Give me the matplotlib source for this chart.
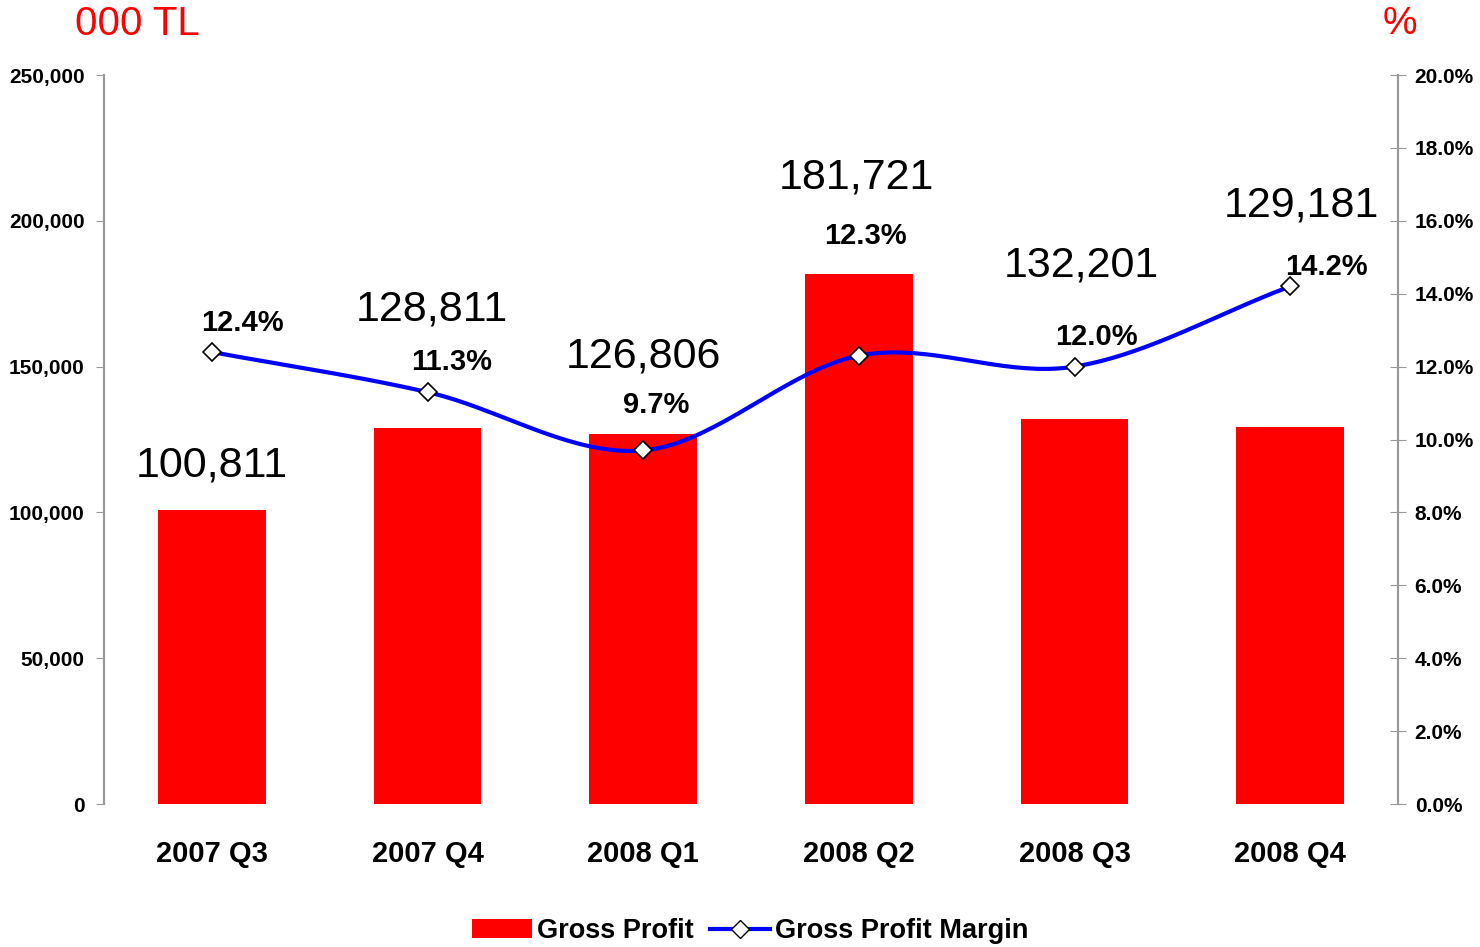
import numpy as np
import matplotlib
matplotlib.use("Agg")
import matplotlib.pyplot as plt
from matplotlib.lines import Line2D
from matplotlib.patches import Patch

plt.rcParams['font.family'] = ['Liberation Sans', 'DejaVu Sans']

# data
quarters = ['2007 Q3', '2007 Q4', '2008 Q1', '2008 Q2', '2008 Q3', '2008 Q4']
gross_profit = [100811, 128811, 126806, 181721, 132201, 129181]
margin = [12.4, 11.3, 9.7, 12.3, 12.0, 14.2]

# label placement (data units)
value_label_y = [116000, 169500, 153300, 215000, 184800, 205400]
value_label_dx = [0.0, 0.02, 0.0, -0.01, 0.03, 0.05]
pct_label_y = [13.2, 12.13, 10.95, 15.58, 12.81, 14.73]
pct_label_dx = [0.14, 0.11, 0.06, 0.03, 0.1, 0.17]


def catmull_rom(x, y, n=40):
    # smooth curve passing through the points (like Excel "smoothed line")
    x = np.asarray(x, float)
    y = np.asarray(y, float)
    px = np.concatenate([[2 * x[0] - x[1]], x, [2 * x[-1] - x[-2]]])
    py = np.concatenate([[2 * y[0] - y[1]], y, [2 * y[-1] - y[-2]]])
    xs, ys = [], []
    for i in range(1, len(px) - 2):
        t = np.linspace(0, 1, n)
        for p, out in ((px, xs), (py, ys)):
            p0, p1, p2, p3 = p[i - 1], p[i], p[i + 1], p[i + 2]
            m1 = (p2 - p0) / 2.0
            m2 = (p3 - p1) / 2.0
            h00 = 2 * t**3 - 3 * t**2 + 1
            h10 = t**3 - 2 * t**2 + t
            h01 = -2 * t**3 + 3 * t**2
            h11 = t**3 - t**2
            out.extend(h00 * p1 + h10 * m1 + h01 * p2 + h11 * m2)
    return np.array(xs), np.array(ys)


fig = plt.figure(figsize=(14.8, 9.47), dpi=100)
ax = fig.add_axes([0.0703, 0.151, 0.8743, 0.7698])
ax2 = ax.twinx()

x = np.arange(len(quarters))
ax.bar(x, gross_profit, width=0.5, color='#ff0000', zorder=2)
ax.set_xlim(-0.5, len(quarters) - 0.5)
ax.set_ylim(0, 250000)
ax.set_yticks(np.arange(0, 250001, 50000))
ax.set_yticklabels(['{:,}'.format(v) for v in range(0, 250001, 50000)],
                   fontsize=15, fontweight='bold')
ax.set_xticks(x)
ax.set_xticklabels(quarters, fontsize=21, fontweight='bold')
ax.tick_params(axis='x', length=0, pad=26)
ax.tick_params(axis='y', direction='out', length=6, color='#999999', pad=8)

ax2.set_ylim(0, 20)
ax2.set_yticks(np.arange(0, 20.1, 2))
ax2.set_yticklabels(['{:.1f}%'.format(v) for v in np.arange(0, 20.1, 2)],
                    fontsize=15, fontweight='bold')
ax2.tick_params(axis='y', direction='inout', length=12, color='#999999', pad=6)

for a in (ax, ax2):
    for s in ('top', 'bottom'):
        a.spines[s].set_visible(False)
    a.spines['left'].set_color('#999999')
    a.spines['right'].set_color('#999999')
    a.spines['left'].set_linewidth(1.5)
    a.spines['right'].set_linewidth(1.5)

sx, sy = catmull_rom(x, margin)
ax2.plot(sx, sy, color='#0000ff', lw=3, zorder=3)
ax2.plot(x, margin, ls='none', marker='D', markersize=9,
         markerfacecolor='white', markeredgecolor='black', markeredgewidth=1.2, zorder=4)

for i, v in enumerate(gross_profit):
    ax.text(x[i] + value_label_dx[i], value_label_y[i], '{:,}'.format(v),
            ha='center', va='center', fontsize=31)
for i, m in enumerate(margin):
    ax2.text(x[i] + pct_label_dx[i], pct_label_y[i], '{:.1f}%'.format(m),
             ha='center', va='center', fontsize=21, fontweight='bold', zorder=5)

fig.text(0.0507, 0.975, '000 TL', color='#ff0000', fontsize=29, ha='left', va='center')
fig.text(0.946, 0.975, '%', color='#ff0000', fontsize=28, ha='center', va='center')

handles = [Patch(facecolor='#ff0000', edgecolor='none'),
           Line2D([0], [0], color='#0000ff', lw=3, marker='D', markersize=9,
                  markerfacecolor='white', markeredgecolor='black')]
fig.legend(handles, ['Gross Profit', 'Gross Profit Margin'], loc='lower center',
           bbox_to_anchor=(0.507, -0.023), ncol=2, frameon=False,
           prop={'size': 19.5, 'weight': 'bold'}, handlelength=2.2,
           handletextpad=0.2, columnspacing=0.6)

plt.savefig('out.png', dpi=100)
